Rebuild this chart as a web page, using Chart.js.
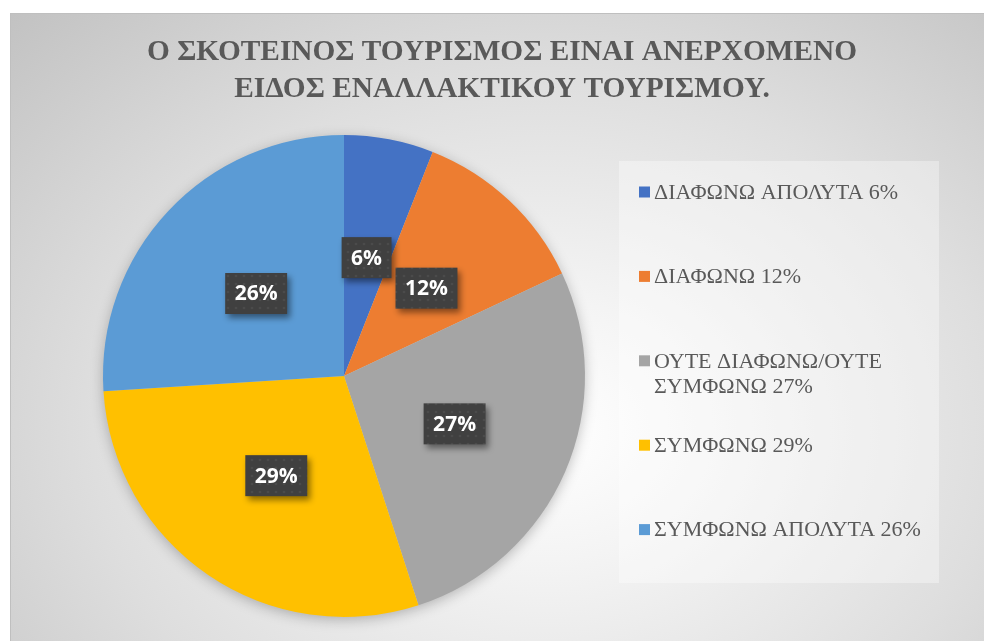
<!DOCTYPE html>
<html>
<head>
<meta charset="utf-8">
<script src="https://cdn.jsdelivr.net/npm/chart.js@4.4.1/dist/chart.umd.min.js"></script>
<style>
  html, body { margin: 0; padding: 0; background: #ffffff; overflow: hidden; }
  #frame {
    position: absolute; left: 10px; top: 13px; width: 990px; height: 650px;
    border: 1px solid #bfbfbf;
    background: radial-gradient(ellipse farthest-corner at 54% 64%, #ffffff 0%, #f4f4f4 22%, #dedede 60%, #c2c2c2 100%);
  }
  #wrap { position: absolute; left: 0; top: 0; width: 984px; height: 641px; }
</style>
</head>
<body>
<div id="frame"></div>
<div id="wrap"><canvas id="myChart"></canvas></div>
<script>
var titleLines = ['Ο ΣΚΟΤΕΙΝΟΣ ΤΟΥΡΙΣΜΟΣ ΕΙΝΑΙ ΑΝΕΡΧΟΜΕΝΟ', 'ΕΙΔΟΣ ΕΝΑΛΛΑΚΤΙΚΟΥ ΤΟΥΡΙΣΜΟΥ.'];
var categories = ['ΔΙΑΦΩΝΩ ΑΠΟΛΥΤΑ', 'ΔΙΑΦΩΝΩ', 'ΟΥΤΕ ΔΙΑΦΩΝΩ/ΟΥΤΕ ΣΥΜΦΩΝΩ', 'ΣΥΜΦΩΝΩ', 'ΣΥΜΦΩΝΩ ΑΠΟΛΥΤΑ'];
var percents = [6, 12, 27, 29, 26];
var colors = ['#4472C4', '#ED7D31', '#A5A5A5', '#FFC000', '#5B9BD5'];

var textGray = '#595959';

// dotted dark fill used behind the data labels
function makePattern(ctx) {
  var c = document.createElement('canvas');
  c.width = 8; c.height = 8;
  var p = c.getContext('2d');
  p.fillStyle = '#404040';
  p.fillRect(0, 0, 8, 8);
  p.fillStyle = '#4b4b4b';
  p.beginPath();
  p.arc(4, 4, 1.3, 0, Math.PI * 2);
  p.fill();
  return ctx.createPattern(c, 'repeat');
}

var decor = {
  id: 'decor',
  beforeDatasetsDraw: function(chart) {
    var ctx = chart.ctx;
    var arc = chart.getDatasetMeta(0).data[0];
    ctx.save();
    ctx.shadowColor = 'rgba(0,0,0,0.28)';
    ctx.shadowBlur = 14;
    ctx.shadowOffsetY = 3;
    ctx.fillStyle = '#cccccc';
    ctx.beginPath();
    ctx.arc(arc.x, arc.y, arc.outerRadius - 1, 0, Math.PI * 2);
    ctx.fill();
    ctx.restore();
  },
  afterDatasetsDraw: function(chart) {
    var ctx = chart.ctx;
    var meta = chart.getDatasetMeta(0);
    var pattern = makePattern(ctx);
    ctx.save();
    ctx.font = 'bold 21px "Open Sans"';
    meta.data.forEach(function(arc, i) {
      var pt = arc.getCenterPoint();
      var txt = percents[i] + '%';
      var w = ctx.measureText(txt).width + 19;
      var h = 41;
      ctx.save();
      ctx.shadowColor = 'rgba(0,0,0,0.45)';
      ctx.shadowBlur = 6;
      ctx.shadowOffsetX = 3;
      ctx.shadowOffsetY = 4;
      ctx.fillStyle = pattern;
      ctx.fillRect(pt.x - w / 2, pt.y - h / 2, w, h);
      ctx.restore();
      ctx.fillStyle = '#ffffff';
      ctx.textAlign = 'center';
      ctx.textBaseline = 'middle';
      ctx.fillText(txt, pt.x, pt.y + 1);
    });
    ctx.restore();
  },
  afterDraw: function(chart) {
    var ctx = chart.ctx;
    ctx.save();
    // title, slightly condensed like the original
    ctx.fillStyle = textGray;
    ctx.textAlign = 'center';
    ctx.textBaseline = 'alphabetic';
    ctx.font = 'bold 30px "Liberation Serif"';
    var sx = 710 / ctx.measureText(titleLines[0]).width;
    [60, 97].forEach(function(y, k) {
      ctx.save();
      ctx.translate(502, y);
      ctx.scale(sx, 1);
      ctx.fillText(titleLines[k], 0, 0);
      ctx.restore();
    });

    // legend box
    var bx = 619, by = 161, bw = 320, bh = 422;
    ctx.fillStyle = 'rgba(255,255,255,0.35)';
    ctx.fillRect(bx, by, bw, bh);
    var slot = bh / categories.length;
    ctx.font = '22px "Liberation Serif"';
    ctx.textAlign = 'left';
    ctx.textBaseline = 'middle';
    categories.forEach(function(cat, i) {
      var words = (cat + ' ' + percents[i] + '%').split(' ');
      var lines = [], cur = '';
      words.forEach(function(wd) {
        var test = cur ? cur + ' ' + wd : wd;
        if (cur && ctx.measureText(test).width > 280) { lines.push(cur); cur = wd; }
        else cur = test;
      });
      lines.push(cur);
      var y0 = by + slot * i + 31;
      ctx.fillStyle = colors[i];
      ctx.fillRect(639, y0 - 5.5, 11, 11);
      ctx.fillStyle = textGray;
      lines.forEach(function(ln, k) {
        ctx.fillText(ln, 654, y0 + k * 25 + 1);
      });
    });
    ctx.restore();
  }
};

new Chart(document.getElementById('myChart').getContext('2d'), {
  type: 'pie',
  data: {
    labels: categories,
    datasets: [{
      data: percents,
      backgroundColor: colors,
      borderWidth: 0
    }]
  },
  options: {
    responsive: true,
    maintainAspectRatio: false,
    animation: false,
    layout: { padding: { left: 103, right: 399, top: 135, bottom: 24 } },
    plugins: {
      legend: { display: false },
      title: { display: false },
      tooltip: { enabled: false }
    }
  },
  plugins: [decor]
});
</script>
</body>
</html>
